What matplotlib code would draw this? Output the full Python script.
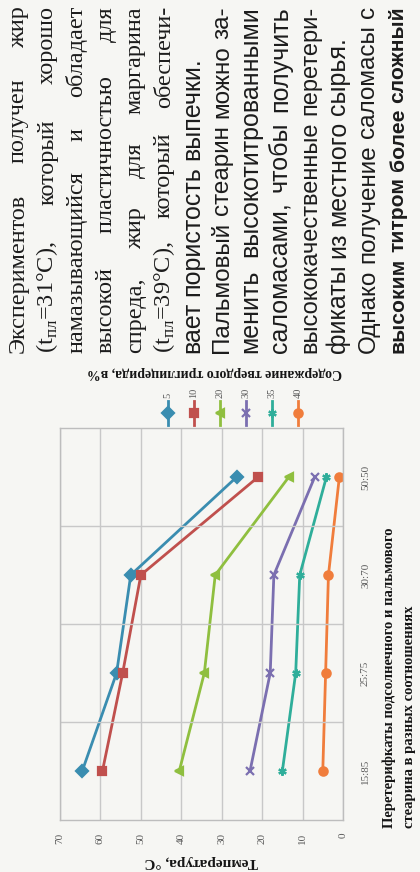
import matplotlib
matplotlib.use('Agg')
import matplotlib.pyplot as plt
from matplotlib.font_manager import FontProperties, fontManager
from matplotlib.lines import Line2D

# данные (температура плавления, °C)
categories = ['15:85', '25:75', '30:70', '50:50']
series_names = ['5', '10', '20', '30', '35', '40']
t5 = [64.5, 56.0, 52.5, 26.3]
t10 = [59.5, 54.5, 50.0, 21.0]
t20 = [40.5, 34.3, 31.6, 13.4]
t30 = [23.0, 18.0, 17.1, 7.0]
t35 = [15.0, 11.7, 10.7, 4.1]
t40 = [5.0, 4.3, 3.6, 0.9]
temp_ticks = [0, 10, 20, 30, 40, 50, 60, 70]

colors = ['#3a8db0', '#c0504d', '#8fbf3f', '#7b6fb0', '#2fae9a', '#f07d3c']
markers = ['D', 's', '<', 'x', (6, 2, 0), 'o']

paragraph = [
    ('Экспериментов получен жир', 'serif', True),
    ('(t$_{\\mathregular{пл}}$=31°С), который хорошо', 'serif', True),
    ('намазывающийся и обладает', 'serif', True),
    ('высокой пластичностью для', 'serif', True),
    ('спреда, жир для маргарина', 'serif', True),
    ('(t$_{\\mathregular{пл}}$=39°С), который обеспечи-', 'serif', True),
    ('вает пористость выпечки.', 'narrow', False),
    ('Пальмовый стеарин можно за-', 'narrow', True),
    ('менить высокотитрованными', 'narrow', True),
    ('саломасами, чтобы получить', 'narrow', True),
    ('высококачественные перетери-', 'narrow', True),
    ('фикаты из местного сырья.', 'narrow', False),
    ('Однако получение саломасы с', 'narrow', True),
    ('высоким титром более сложный', 'bold', True),
]

W, H = 420, 872
fig = plt.figure(figsize=(W / 100, H / 100), dpi=100)
fig.patch.set_facecolor('#f6f6f3')


def fx(x):
    return x / W


def fy(y):
    return 1 - y / H


names = {f.name for f in fontManager.ttflist}
narrow = 'Liberation Sans Narrow' in names
sans_family = 'Liberation Sans Narrow' if narrow else 'Liberation Sans'
base = {'serif': ('Liberation Serif', 'normal', 17.5),
        'narrow': (sans_family, 'normal', 18),
        'bold': (sans_family, 'bold', 18)}

# --- текст страницы (повёрнут) ---
renderer = fig.canvas.get_renderer()
y_start, y_end = 353, 6
for i, (line, kind, justify) in enumerate(paragraph):
    xb = 24 + 29.2 * i
    family, weight, size = base[kind]
    words = line.split(' ')
    while True:
        fp = FontProperties(family=family, weight=weight, size=size)
        texts = [fig.text(fx(xb), fy(y_start), w, rotation=90, rotation_mode='anchor',
                          ha='left', va='baseline', fontproperties=fp, color='#1c1c1c')
                 for w in words]
        lengths = [t.get_window_extent(renderer).height for t in texts]
        space = size * 100 / 72 * 0.25
        if sum(lengths) + space * (len(words) - 1) <= y_start - y_end or size < 8:
            break
        for t in texts:
            t.remove()
        size -= 0.25
    if kind != 'serif':
        # узкий шрифт в оригинале: для абзацных строк тот же кегль, что у полных
        pass
    if justify and len(words) > 1:
        gap = (y_start - y_end - sum(lengths)) / (len(words) - 1)
    else:
        gap = space
    pos = y_start
    for t, L in zip(texts, lengths):
        t.set_position((fx(xb), fy(pos)))
        pos -= L + gap

# --- график ---
ax = fig.add_axes([fx(60), fy(820), (343 - 60) / W, (820 - 428) / H])
ax.set_facecolor('#f6f6f3')
ypos = list(range(len(categories)))
all_series = [t5, t10, t20, t30, t35, t40]
for vals, c, m in zip(all_series, colors, markers):
    ax.plot(vals, ypos, color=c, lw=2.0, marker=m, ms=6, mew=1.6, mfc=c, mec=c)

ax.set_xlim(70, 0)
ax.set_ylim(-0.5, len(categories) - 0.5)
ax.set_xticks(temp_ticks)
ax.set_xticklabels([str(t) for t in temp_ticks], rotation=90, fontsize=8,
                   color='#5a5a5a', family='Liberation Serif')
ax.grid(axis='x', color='#c8c8c8', lw=1)
for b in [0.5, 1.5, 2.5]:
    ax.axhline(b, color='#c8c8c8', lw=1)
ax.yaxis.tick_right()
ax.set_yticks(ypos)
ax.set_yticklabels(categories, rotation=90, va='center', fontsize=8,
                   color='#5a5a5a', family='Liberation Serif')
ax.tick_params(axis='x', length=0, pad=9)
ax.tick_params(axis='y', length=0, pad=13)
for s in ax.spines.values():
    s.set_color('#bdbdbd')
    s.set_linewidth(1)

# подписи осей
fig.text(fx(201), fy(861), 'Температура, °С', rotation=180, ha='center', va='center',
         family='Liberation Serif', weight='bold', fontsize=11, color='#151515')
fig.text(fx(389), fy(828), 'Перетерифкаты подсолнечного и пальмового', rotation=90,
         ha='center', va='bottom', family='Liberation Serif', weight='bold',
         fontsize=10.5, color='#151515')
fig.text(fx(410), fy(828), 'стеарина в разных соотношениях', rotation=90,
         ha='center', va='bottom', family='Liberation Serif', weight='bold',
         fontsize=10.5, color='#151515')

# легенда (повёрнута)
for i, (name, c, m) in enumerate(zip(series_names, colors, markers)):
    lx = 168 + 26 * i
    fig.add_artist(Line2D([fx(lx), fx(lx)], [fy(425), fy(401)], color=c, lw=2.0,
                          transform=fig.transFigure))
    fig.add_artist(Line2D([fx(lx)], [fy(413)], color=c, marker=m, ms=6, mew=1.6,
                          mfc=c, mec=c, transform=fig.transFigure))
    fig.text(fx(lx), fy(398), name, rotation=90, ha='center', va='bottom',
             family='Liberation Serif', fontsize=7.5, color='#5a5a5a')
fig.text(fx(215), fy(373), 'Содержание твердого триглицерида, в%', rotation=180,
         ha='center', va='center', family='Liberation Serif', weight='bold',
         fontsize=10, color='#151515')

fig.savefig('out.png', dpi=100, facecolor=fig.get_facecolor())
